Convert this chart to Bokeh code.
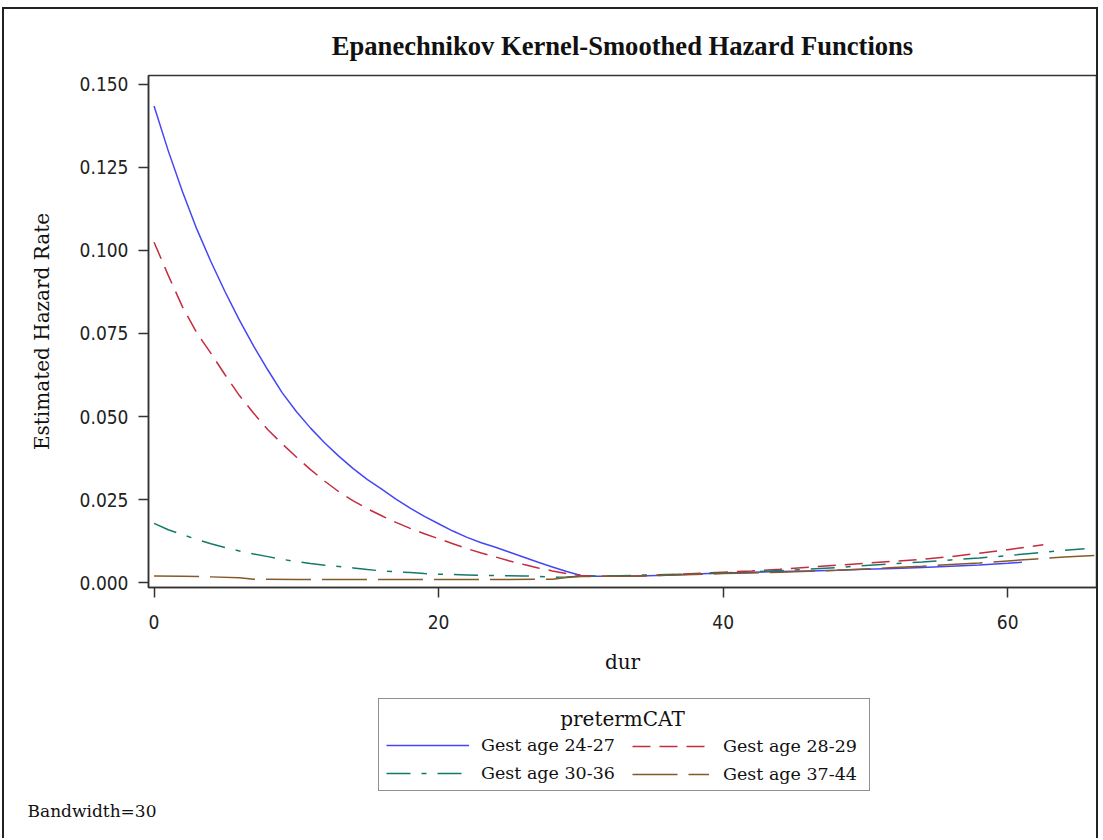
from bokeh.plotting import figure
from bokeh.layouts import column
from bokeh.models import Legend, LegendItem, Label, FixedTicker, PrintfTickFormatter, Range1d
from bokeh.embed import file_html
from bokeh.resources import INLINE

# ---- data ----
series_names = ["Gest age 24-27", "Gest age 28-29", "Gest age 30-36", "Gest age 37-44"]

dur_2427 = [0, 1, 2, 3, 4, 5, 6, 7, 8, 9, 10, 11, 12, 13, 14, 15, 16, 17, 18, 19, 20,
            21, 22, 23, 24, 25, 26, 27, 28, 29, 30, 31, 32, 34, 36, 38, 40, 42, 44, 46,
            48, 50, 52, 54, 56, 58, 60, 61]
haz_2427 = [0.1435, 0.1300, 0.1177, 0.1065, 0.0966, 0.0875, 0.0790, 0.0712, 0.0640, 0.0572,
            0.0515, 0.0465, 0.0420, 0.0380, 0.0343, 0.0310, 0.0281, 0.0251, 0.0224, 0.0199,
            0.0177, 0.0155, 0.0136, 0.0120, 0.0106, 0.0091, 0.0076, 0.0061, 0.0047, 0.0033,
            0.0021, 0.0019, 0.0019, 0.0020, 0.0022, 0.0026, 0.0029, 0.0031, 0.0033, 0.0035,
            0.0037, 0.0040, 0.0042, 0.0045, 0.0049, 0.0053, 0.0058, 0.0061]

dur_2829 = [0, 1, 2, 3, 4, 5, 6, 7, 8, 9, 10, 11, 12, 13, 14, 15, 16, 17, 18, 19, 20,
            21, 22, 23, 24, 25, 26, 27, 28, 29, 30, 31, 32, 34, 36, 38, 40, 42, 44, 46,
            48, 50, 52, 54, 56, 58, 60, 62, 62.5]
haz_2829 = [0.1025, 0.0925, 0.0830, 0.0752, 0.0690, 0.0625, 0.0563, 0.0510, 0.0460, 0.0418,
            0.0378, 0.0340, 0.0305, 0.0273, 0.0246, 0.0222, 0.0201, 0.0181, 0.0163, 0.0147,
            0.0132, 0.0117, 0.0102, 0.0089, 0.0077, 0.0065, 0.0054, 0.0044, 0.0035, 0.0027,
            0.0021, 0.0019, 0.0019, 0.0020, 0.0023, 0.0027, 0.0031, 0.0035, 0.0040, 0.0046,
            0.0052, 0.0058, 0.0064, 0.0070, 0.0078, 0.0088, 0.0099, 0.0111, 0.0114]

dur_3036 = [0, 1, 2, 3, 4, 5, 6, 7, 8, 9, 10, 11, 12, 13, 14, 15, 16, 17, 18, 19, 20,
            22, 24, 26, 27, 28, 29, 30, 32, 34, 36, 38, 40, 42, 44, 46, 48, 50, 52, 54,
            56, 58, 60, 62, 64, 65.4]
haz_3036 = [0.0178, 0.0159, 0.0144, 0.0130, 0.0117, 0.0105, 0.0095, 0.0086, 0.0078, 0.0070,
            0.0063, 0.0057, 0.0052, 0.0048, 0.0044, 0.0039, 0.0035, 0.0032, 0.0030, 0.0027,
            0.0025, 0.0023, 0.0021, 0.0020, 0.0018, 0.0016, 0.0017, 0.0019, 0.0020, 0.0022,
            0.0024, 0.0026, 0.0029, 0.0032, 0.0036, 0.0040, 0.0045, 0.0051, 0.0057, 0.0062,
            0.0068, 0.0074, 0.0081, 0.0089, 0.0097, 0.0102]

dur_3744 = [0, 2, 4, 6, 7, 10, 15, 20, 25, 28, 29, 30, 32, 34, 36, 38, 40, 42, 44, 46,
            48, 50, 52, 54, 56, 58, 60, 62, 64, 66.3]
haz_3744 = [0.0020, 0.0019, 0.0017, 0.0014, 0.0010, 0.0009, 0.0009, 0.0009, 0.0009, 0.0010,
            0.0015, 0.0018, 0.0019, 0.0020, 0.0022, 0.0024, 0.0027, 0.0029, 0.0031, 0.0034,
            0.0037, 0.0041, 0.0045, 0.0049, 0.0054, 0.0059, 0.0065, 0.0071, 0.0077, 0.0082]

x_ticks = [0, 20, 40, 60]
y_ticks = [0.0, 0.025, 0.05, 0.075, 0.1, 0.125, 0.15]

legend_title = "pretermCAT"
footnote = "Bandwidth=30"

colors = ["#4646f4", "#c42c3e", "#13796b", "#85592a"]
dashes = ["solid", "18 9", "24 11 5 11", "45 11"]

TXT = "#111111"
AX = "#333333"
W = 1096
BORDER = "2px solid #222"

# ---- main plot ----
p = figure(width=W, height=671, output_backend="svg", toolbar_location=None,
           x_range=Range1d(-0.39, 66.24), y_range=Range1d(-0.0015, 0.1527),
           min_border_left=144, min_border_right=4, min_border_top=66,
           min_border_bottom=93, background_fill_color="white",
           border_fill_color="white")
p.styles = {"border-left": BORDER, "border-top": BORDER, "border-right": BORDER}

p.title.text = "Epanechnikov Kernel-Smoothed Hazard Functions"
p.title.align = "center"
p.title.text_font = "Liberation Serif"
p.title.text_font_size = "26.6px"
p.title.text_font_style = "bold"
p.title.text_color = TXT
p.title.standoff = 29

p.xgrid.visible = False
p.ygrid.visible = False
p.outline_line_color = AX
p.outline_line_width = 1.5

for ax in (p.xaxis[0], p.yaxis[0]):
    ax.axis_line_color = AX
    ax.axis_line_width = 1.5
    ax.major_tick_line_color = AX
    ax.major_tick_line_width = 1.5
    ax.major_tick_out = 10
    ax.major_tick_in = 0
    ax.minor_tick_line_color = None
    ax.major_label_text_font = "DejaVu Sans Condensed"
    ax.major_label_text_font_size = "19px"
    ax.major_label_text_color = "#222222"
    ax.axis_label_text_font = "DejaVu Serif"
    ax.axis_label_text_font_size = "20px"
    ax.axis_label_text_font_style = "normal"
    ax.axis_label_text_color = TXT

p.xaxis.ticker = FixedTicker(ticks=x_ticks)
p.yaxis.ticker = FixedTicker(ticks=y_ticks)
p.yaxis.formatter = PrintfTickFormatter(format="%.3f")
p.xaxis.axis_label = "dur"
p.yaxis.axis_label = "Estimated Hazard Rate"
p.yaxis.major_label_standoff = 10
p.xaxis.major_label_standoff = 17
p.yaxis.axis_label_standoff = 23
p.xaxis.axis_label_standoff = 18

xs = [dur_2427, dur_2829, dur_3036, dur_3744]
ys = [haz_2427, haz_2829, haz_3036, haz_3744]
for x, y, c, d in zip(xs, ys, colors, dashes):
    p.line(x, y, line_color=c, line_width=1.5, line_dash=d)

# ---- lower panel: legend and footnote ----
# (its frame lines up with the main frame: left edge at the main frame's left)
H2 = 160
q = figure(width=W, height=H2, output_backend="svg", toolbar_location=None,
           x_range=Range1d(0, 1), y_range=Range1d(0, 1),
           x_axis_location=None, y_axis_location=None,
           title=footnote, title_location="below",
           min_border_left=0, min_border_right=0, min_border_top=0,
           min_border_bottom=46, background_fill_color="white",
           border_fill_color="white")
q.styles = {"border-left": BORDER, "border-right": BORDER}
q.xgrid.visible = False
q.ygrid.visible = False
q.outline_line_color = None
q.title.align = "left"
q.title.offset = -121
q.title.standoff = 12
q.title.text_font = "DejaVu Serif"
q.title.text_font_size = "17px"
q.title.text_font_style = "normal"
q.title.text_color = TXT

# legend keys only (kept outside the visible range of this panel)
keys = []
for c, d in zip(colors, dashes):
    keys.append(q.line([-5, -4], [-5, -4], line_color=c, line_width=1.5, line_dash=d))

common = dict(padding=7, spacing=8, margin=0, title=" ",
              title_text_font="DejaVu Serif", title_text_font_size="20px",
              title_standoff=5, label_text_font="DejaVu Serif",
              label_text_font_size="17.5px", label_text_color=TXT,
              glyph_height=20, label_height=20, orientation="vertical",
              background_fill_alpha=0)

leg1 = Legend(items=[LegendItem(label=series_names[0], renderers=[keys[0]]),
                     LegendItem(label=series_names[2], renderers=[keys[2]])],
              location=(230, 1), glyph_width=83, label_standoff=12,
              label_width=381, border_line_color="#222222", border_line_width=1.5,
              **common)
leg2 = Legend(items=[LegendItem(label=series_names[1], renderers=[keys[1]]),
                     LegendItem(label=series_names[3], renderers=[keys[3]])],
              location=(477, 1), glyph_width=77, label_standoff=14,
              border_line_alpha=0, **common)
q.add_layout(leg1)
q.add_layout(leg2)

q.add_layout(Label(x=474, y=74, x_units="screen", y_units="screen", text=legend_title,
                   text_font="DejaVu Serif", text_font_size="20px", text_color=TXT,
                   text_align="center", text_baseline="middle"))

layout = column(p, q, spacing=0)
layout.styles = {"margin-left": "2px", "margin-top": "7px"}

open("out.html", "w").write(file_html(layout, INLINE))
